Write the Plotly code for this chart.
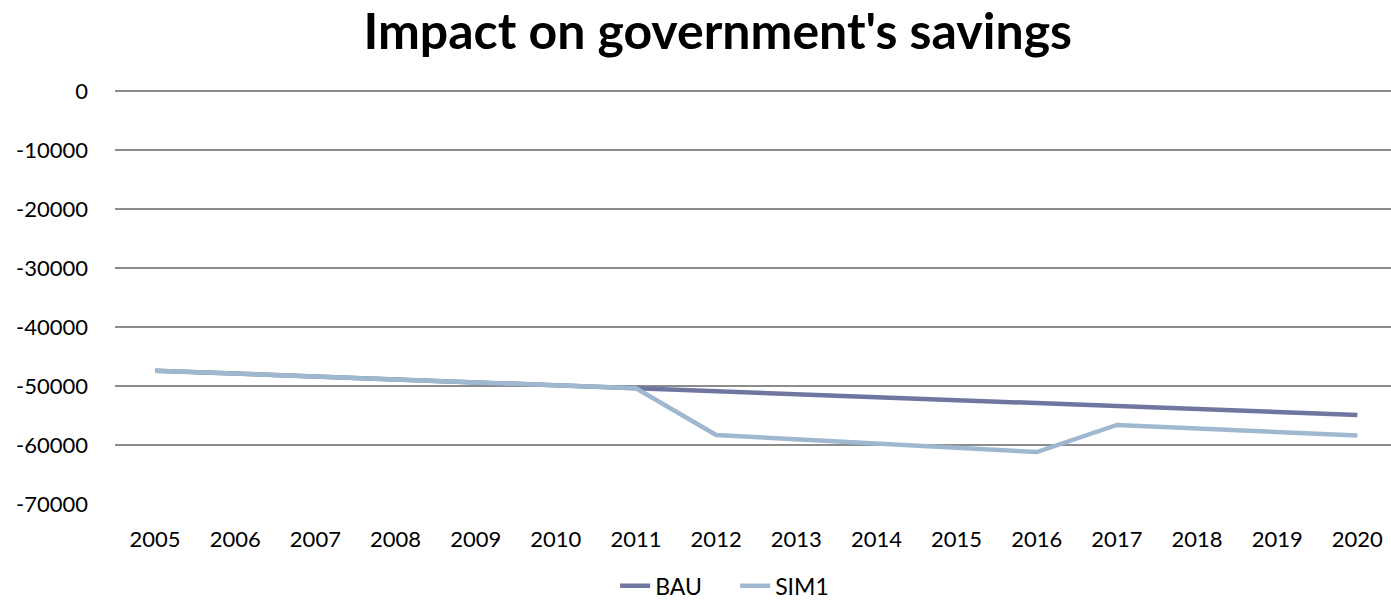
import plotly.graph_objects as go

years = list(range(2005, 2021))
bau = [-47400, -47900, -48400, -48900, -49400, -49900, -50400, -50900,
       -51400, -51900, -52400, -52900, -53400, -53900, -54400, -54900]
sim1 = [-47400, -47900, -48400, -48900, -49400, -49900, -50400, -58300,
        -59000, -59700, -60400, -61200, -56600, -57200, -57800, -58400]
y_ticks = [0, -10000, -20000, -30000, -40000, -50000, -60000, -70000]

font_family = "Lato, 'Open Sans', sans-serif"

fig = go.Figure()
fig.add_trace(go.Scatter(x=years, y=bau, mode="lines", name="BAU",
                         line=dict(color="#6f77a0", width=4.5)))
fig.add_trace(go.Scatter(x=years, y=sim1, mode="lines", name="SIM1",
                         line=dict(color="#9fb8cf", width=4.5)))

fig.update_layout(
    width=1391, height=602,
    margin=dict(l=115, r=0, t=85, b=98, autoexpand=False),
    paper_bgcolor="white", plot_bgcolor="white",
    font=dict(family=font_family, size=22, color="black"),
    title=dict(text="<b>Impact on government's savings</b>", x=0.516, xanchor="center",
               y=0.948, yanchor="middle", font=dict(size=50, family=font_family)),
    xaxis=dict(range=[2004.5, 2020.42], tickmode="array", tickvals=years,
               ticktext=[str(y) for y in years], showgrid=False, showline=False,
               zeroline=False, ticks="", ticklabelstandoff=20),
    yaxis=dict(range=[-70000, 1000], tickmode="array", tickvals=y_ticks,
               ticktext=[str(v) for v in y_ticks], showgrid=True,
               gridcolor="#8c8c8c", gridwidth=1.5, zeroline=False, showline=False,
               ticks="", ticklabelstandoff=26),
    legend=dict(orientation="h", x=0.486, xanchor="center", y=-0.195, yanchor="middle",
                font=dict(size=23), tracegroupgap=0, entrywidth=75, entrywidthmode="pixels"),
    showlegend=True,
)

fig.write_html("out.html", config={"displayModeBar": False},
               post_script="document.body.style.margin='0px';")
